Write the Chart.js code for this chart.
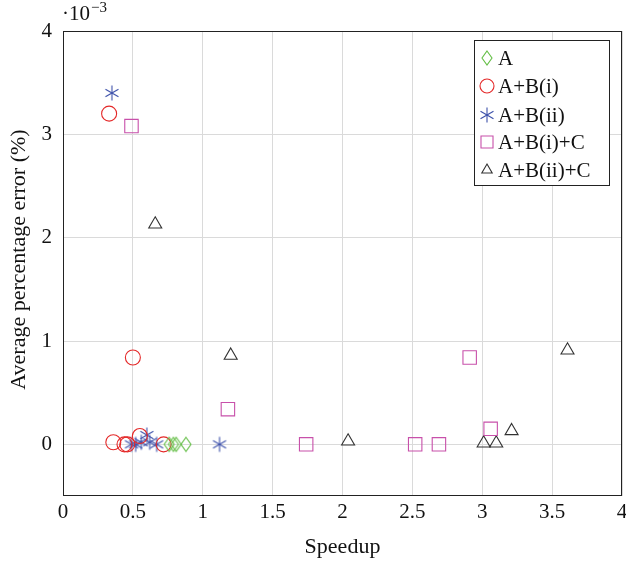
<!DOCTYPE html>
<html>
<head>
<meta charset="utf-8">
<script src="https://cdn.jsdelivr.net/npm/chart.js@4.4.0/dist/chart.umd.min.js"></script>
<style>
  html, body { margin: 0; padding: 0; background: #fff; }
</style>
</head>
<body>
<canvas id="chart" width="626" height="561"></canvas>
<script>
// average percentage error in units of 1e-3
var seriesNames = ['A', 'A+B(i)', 'A+B(ii)', 'A+B(i)+C', 'A+B(ii)+C'];
var aSpeedup = [0.76, 0.79, 0.81, 0.88];
var aError   = [0, 0, 0, 0];
var bi_Speedup = [0.33, 0.50, 0.36, 0.44, 0.46, 0.55, 0.72];
var bi_Error   = [3.20, 0.84, 0.02, 0.00, 0.00, 0.08, 0.00];
var bii_Speedup = [0.35, 0.49, 0.52, 0.56, 0.60, 0.62, 0.67, 1.12];
var bii_Error   = [3.40, 0.00, 0.00, 0.02, 0.09, 0.02, 0.00, 0.00];
var biC_Speedup = [0.49, 1.18, 1.74, 2.52, 2.69, 2.91, 3.06];
var biC_Error   = [3.08, 0.34, 0.00, 0.00, 0.00, 0.84, 0.15];
var biiC_Speedup = [0.66, 1.20, 2.04, 3.01, 3.10, 3.21, 3.61];
var biiC_Error   = [2.13, 0.86, 0.03, 0.01, 0.01, 0.13, 0.91];
var xTicks = [0, 0.5, 1, 1.5, 2, 2.5, 3, 3.5, 4];
var yTicks = [0, 1, 2, 3, 4];

var colors = ['rgb(100,190,70)', 'rgb(228,40,40)', 'rgb(60,80,170)', 'rgb(200,80,170)', 'rgb(50,50,50)'];
var FONT = "'Liberation Serif', 'DejaVu Serif', serif";

function pts(xs, ys) {
  return xs.map(function (x, i) { return { x: x, y: ys[i] }; });
}

// pgfplots-like asterisk and diamond markers
function asterisk(color) {
  var c = document.createElement('canvas');
  c.width = 18; c.height = 18;
  var g = c.getContext('2d');
  g.strokeStyle = color; g.lineWidth = 1.1;
  var r = 7.5;
  for (var k = 0; k < 3; k++) {
    var a = Math.PI / 2 + k * Math.PI / 3;
    g.beginPath();
    g.moveTo(9 - r * Math.cos(a), 9 - r * Math.sin(a));
    g.lineTo(9 + r * Math.cos(a), 9 + r * Math.sin(a));
    g.stroke();
  }
  return c;
}
function diamond(color) {
  var c = document.createElement('canvas');
  c.width = 16; c.height = 18;
  var g = c.getContext('2d');
  g.strokeStyle = color; g.lineWidth = 1.1;
  g.beginPath();
  g.moveTo(8, 2); g.lineTo(13, 9); g.lineTo(8, 16); g.lineTo(3, 9); g.closePath();
  g.stroke();
  return c;
}

var styles = [
  { pointStyle: diamond(colors[0]), radius: 7 },
  { pointStyle: 'circle', radius: 7.5 },
  { pointStyle: asterisk(colors[2]), radius: 7 },
  { pointStyle: 'rect', radius: 9.5 },
  { pointStyle: 'triangle', radius: 7.5 }
];
var allData = [pts(aSpeedup, aError), pts(bi_Speedup, bi_Error), pts(bii_Speedup, bii_Error),
               pts(biC_Speedup, biC_Error), pts(biiC_Speedup, biiC_Error)];

var datasets = seriesNames.map(function (name, i) {
  return {
    label: name,
    data: allData[i],
    pointStyle: styles[i].pointStyle,
    pointRadius: styles[i].radius,
    pointHoverRadius: styles[i].radius,
    borderColor: colors[i],
    backgroundColor: 'rgba(0,0,0,0)',
    pointBorderWidth: 1.1,
    showLine: false
  };
});

var extras = {
  id: 'extras',
  afterDraw: function (chart) {
    var ctx = chart.ctx, a = chart.chartArea, xs = chart.scales.x;
    ctx.save();
    // axis box
    ctx.strokeStyle = '#222'; ctx.lineWidth = 1;
    ctx.strokeRect(a.left + 0.5, a.top + 0.5, a.right - a.left - 1, a.bottom - a.top - 1);
    ctx.fillStyle = '#111';
    // x tick labels and title
    ctx.textAlign = 'center'; ctx.textBaseline = 'middle';
    ctx.font = '21px ' + FONT;
    xTicks.forEach(function (v) {
      ctx.fillText(String(v), xs.getPixelForValue(v), a.bottom + 16);
    });
    ctx.font = '22px ' + FONT;
    ctx.fillText('Speedup', (a.left + a.right) / 2, a.bottom + 51);
    // y axis title
    ctx.save();
    ctx.translate(19, (a.top + a.bottom) / 2 - 4);
    ctx.rotate(-Math.PI / 2);
    ctx.fillText('Average percentage error (%)', 0, 0);
    ctx.restore();
    // exponent label
    ctx.textBaseline = 'alphabetic'; ctx.textAlign = 'left';
    ctx.font = '21px ' + FONT;
    ctx.fillText('\u00b710', 62, 20);
    var w = ctx.measureText('\u00b710').width;
    ctx.font = '15px ' + FONT;
    ctx.fillText('\u22123', 62 + w + 1, 12);
    // legend
    var lx = 474, ly = 40, lw = 135, lh = 145;
    ctx.fillStyle = '#fff';
    ctx.fillRect(lx, ly, lw, lh);
    ctx.strokeStyle = '#222';
    ctx.strokeRect(lx + 0.5, ly + 0.5, lw, lh);
    var rows = [58, 86, 115, 142, 170];
    ctx.font = '21px ' + FONT;
    ctx.textBaseline = 'middle';
    datasets.forEach(function (ds, i) {
      ctx.strokeStyle = ds.borderColor;
      ctx.fillStyle = 'rgba(0,0,0,0)';
      ctx.lineWidth = 1.1;
      var r = ds.pointRadius;
      if (i === 3) r = 8.5;
      if (i === 4) r = 6;
      if (i === 1) r = 7;
      Chart.helpers.drawPoint(ctx, { pointStyle: ds.pointStyle, radius: r, rotation: 0, borderWidth: 1.1 }, 487, rows[i]);
      ctx.fillStyle = '#111';
      ctx.fillText(ds.label, 498, rows[i] + 1);
    });
    ctx.restore();
  }
};

new Chart(document.getElementById('chart'), {
  type: 'scatter',
  data: { datasets: datasets },
  options: {
    responsive: false,
    animation: false,
    layout: { autoPadding: false, padding: { top: 31, right: 4, left: 0, bottom: 0 } },
    plugins: { legend: { display: false }, tooltip: { enabled: false } },
    scales: {
      x: {
        type: 'linear', min: 0, max: 4,
        afterBuildTicks: function (s) { s.ticks = xTicks.map(function (v) { return { value: v }; }); },
        afterFit: function (s) { s.height = 65; },
        grid: { color: 'rgb(218,218,218)', drawTicks: false, lineWidth: 1 },
        border: { display: false },
        ticks: { display: false },
        title: { display: false }
      },
      y: {
        type: 'linear', min: -0.5, max: 4,
        afterBuildTicks: function (s) { s.ticks = yTicks.map(function (v) { return { value: v }; }); },
        afterFit: function (s) { s.width = 63; },
        grid: { color: 'rgb(218,218,218)', drawTicks: false, lineWidth: 1 },
        border: { display: false },
        ticks: { color: '#111', font: { family: FONT, size: 21 }, padding: 11 },
        title: { display: false }
      }
    }
  },
  plugins: [extras]
});
</script>
</body>
</html>
